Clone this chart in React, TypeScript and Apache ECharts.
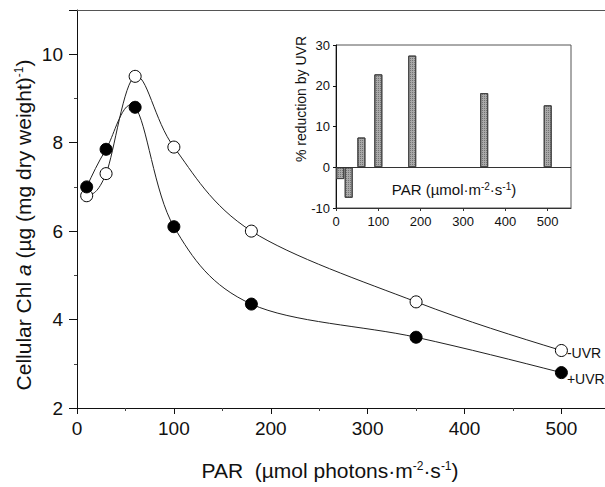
import React, { useEffect, useRef } from 'react';
import * as echarts from 'echarts';

const FONT = '"Liberation Sans", Arial, Helvetica, sans-serif';

// Main chart data
const PAR = [10, 30, 60, 100, 180, 350, 500];
const minusUVR = [6.8, 7.3, 9.5, 7.9, 6.0, 4.4, 3.3];
const plusUVR = [7.0, 7.85, 8.8, 6.1, 4.35, 3.6, 2.8];
const seriesNames = ['-UVR', '+UVR'];

// Inset data (% reduction by UVR)
const insetPAR = [10, 30, 60, 100, 180, 350, 500];
const reduction = [-2.9, -7.5, 7.3, 22.8, 27.4, 18.2, 15.2];

const supRich = {
  sup: { fontSize: 12, verticalAlign: 'top', lineHeight: 12, fontFamily: FONT, fill: '#111', color: '#111' },
  it: { fontStyle: 'italic', fontFamily: FONT, fill: '#111', color: '#111' },
};

// smooth curve through the data points (Catmull-Rom in pixel space, natural ends)
function curveSeries(values: number[]) {
  return {
    type: 'custom',
    xAxisIndex: 0,
    yAxisIndex: 0,
    silent: true,
    z: 2,
    encode: { x: 0, y: 1 },
    data: PAR.map((x, i) => [x, values[i]]),
    renderItem: (params: any, api: any) => {
      const n = PAR.length;
      const i = params.dataIndex;
      if (i >= n - 1) return null;
      const pt = (k: number) => api.coord([PAR[k], values[k]]);
      const tan = (k: number): number[] => {
        if (k > 0 && k < n - 1) {
          const a = pt(k - 1), b = pt(k + 1);
          return [(b[0] - a[0]) / 2, (b[1] - a[1]) / 2];
        }
        if (k === 0) {
          const p0 = pt(0), p1 = pt(1), m1 = tan(1);
          return [(3 * (p1[0] - p0[0]) - m1[0]) / 2, (3 * (p1[1] - p0[1]) - m1[1]) / 2];
        }
        const pa = pt(n - 2), pb = pt(n - 1), ma = tan(n - 2);
        return [(3 * (pb[0] - pa[0]) - ma[0]) / 2, (3 * (pb[1] - pa[1]) - ma[1]) / 2];
      };
      const p1 = pt(i), p2 = pt(i + 1);
      const m1 = tan(i), m2 = tan(i + 1);
      return {
        type: 'bezierCurve',
        shape: {
          x1: p1[0], y1: p1[1], x2: p2[0], y2: p2[1],
          cpx1: p1[0] + m1[0] / 3, cpy1: p1[1] + m1[1] / 3,
          cpx2: p2[0] - m2[0] / 3, cpy2: p2[1] - m2[1] / 3,
        },
        style: { stroke: '#222', lineWidth: 1, fill: null },
      };
    },
  };
}

function markerSeries(values: number[], name: string, filled: boolean, labelOffset: number) {
  const n = PAR.length;
  return {
    name,
    type: 'scatter',
    xAxisIndex: 0,
    yAxisIndex: 0,
    symbol: 'circle',
    symbolSize: 12,
    z: filled ? 4 : 3,
    itemStyle: { color: filled ? '#000' : '#fff', borderColor: '#000', borderWidth: 1, opacity: 1 },
    data: PAR.map((x, i) =>
      i === n - 1
        ? {
            value: [x, values[i]],
            label: {
              show: true, position: 'right', distance: 0, formatter: name,
              fontSize: 14, color: '#111', fontFamily: FONT, offset: [-1, labelOffset],
            },
          }
        : [x, values[i]]
    ),
  };
}

export default function App() {
  const ref = useRef<HTMLDivElement>(null);
  useEffect(() => {
    document.body.style.margin = '0';
    const chart = echarts.init(ref.current!, null, { renderer: 'svg' });
    const axisColor = '#111';
    chart.setOption({
      animation: false,
      backgroundColor: '#fff',
      grid: [
        { left: 77, top: 10, right: 0, bottom: 79 },
        { left: 336, top: 45, right: 34, bottom: 279, show: true, borderColor: '#555', borderWidth: 1, backgroundColor: 'transparent' },
      ],
      xAxis: [
        {
          type: 'value', gridIndex: 0, min: 0, max: 545, interval: 100,
          axisLine: { show: true, onZero: false, lineStyle: { color: axisColor, width: 1 } },
          axisTick: { show: true, length: 6, lineStyle: { color: axisColor } },
          minorTick: { show: true, splitNumber: 2, length: 3, lineStyle: { color: '#444' } },
          splitLine: { show: false },
          axisLabel: { fontSize: 19, color: axisColor, fontFamily: FONT, margin: 11, showMaxLabel: false },
        },
        {
          type: 'value', gridIndex: 0, position: 'top', min: 0, max: 545,
          axisLine: { show: true, onZero: false, lineStyle: { color: '#555', width: 1 } },
          axisTick: { show: false }, axisLabel: { show: false }, splitLine: { show: false },
        },
        {
          type: 'value', gridIndex: 1, min: 0, max: 555, interval: 100,
          axisLine: { show: true, onZero: false, lineStyle: { color: '#333', width: 1 } },
          axisTick: { show: true, length: 3, lineStyle: { color: '#333' } },
          splitLine: { show: false },
          axisLabel: { fontSize: 13, color: axisColor, fontFamily: FONT, margin: 7, showMaxLabel: false },
        },
      ],
      yAxis: [
        {
          type: 'value', gridIndex: 0, min: 2, max: 11, interval: 2,
          axisLine: { show: true, onZero: false, lineStyle: { color: axisColor, width: 1 } },
          axisTick: { show: true, length: 8, lineStyle: { color: axisColor } },
          minorTick: { show: true, splitNumber: 2, length: 3, lineStyle: { color: '#444' } },
          splitLine: { show: false },
          axisLabel: { fontSize: 19, color: axisColor, fontFamily: FONT, margin: 14, showMaxLabel: false },
        },
        {
          type: 'value', gridIndex: 1, min: -10, max: 30, interval: 10,
          axisLine: { show: true, onZero: false, lineStyle: { color: axisColor, width: 1 } },
          axisTick: { show: true, length: 3, lineStyle: { color: axisColor } },
          splitLine: { show: false },
          axisLabel: { fontSize: 13, color: axisColor, fontFamily: FONT, margin: 6 },
        },
      ],
      series: [
        curveSeries(minusUVR),
        curveSeries(plusUVR),
        markerSeries(minusUVR, seriesNames[0], false, 2),
        markerSeries(plusUVR, seriesNames[1], true, 6),
        {
          name: 'reduction', type: 'bar', xAxisIndex: 2, yAxisIndex: 1,
          data: insetPAR.map((x, i) => [x, reduction[i]]),
          barWidth: 8,
          itemStyle: {
            color: '#a9a9a9', borderColor: '#444', borderWidth: 1,
            decal: { symbol: 'rect', symbolSize: 1, dashArrayX: [1, 1], dashArrayY: [1, 1], color: 'rgba(70,70,70,0.55)' },
          },
          markLine: {
            silent: true, symbol: 'none', label: { show: false },
            lineStyle: { color: '#333', width: 1, type: 'solid' },
            data: [{ yAxis: 0 }],
          },
        },
      ],
      graphic: [
        {
          type: 'text', x: 23, y: 225, rotation: Math.PI / 2,
          style: {
            text: 'Cellular Chl {it|a} (µg (mg dry weight){sup|-1})',
            rich: { ...supRich, it: { ...supRich.it, fontSize: 21 } },
            fontSize: 21, fontFamily: FONT, fill: '#111', align: 'center', verticalAlign: 'middle',
          },
        },
        {
          type: 'text', x: 330, y: 470,
          style: {
            text: 'PAR  (µmol photons·m{sup|-2}·s{sup|-1})',
            rich: supRich,
            fontSize: 21, fontFamily: FONT, fill: '#111', align: 'center', verticalAlign: 'middle',
          },
        },
        {
          type: 'text', x: 301, y: 99, rotation: Math.PI / 2,
          style: {
            text: '% reduction by UVR',
            fontSize: 14, fontFamily: FONT, fill: '#111', align: 'center', verticalAlign: 'middle',
          },
        },
        {
          type: 'text', x: 454, y: 189,
          style: {
            text: 'PAR (µmol·m{sup|-2}·s{sup|-1})',
            rich: { sup: { ...supRich.sup, fontSize: 10, lineHeight: 10 } },
            fontSize: 15, fontFamily: FONT, fill: '#111', align: 'center', verticalAlign: 'middle',
          },
        },
      ],
    });
    return () => chart.dispose();
  }, []);
  return <div ref={ref} style={{ width: 605, height: 487 }} />;
}
